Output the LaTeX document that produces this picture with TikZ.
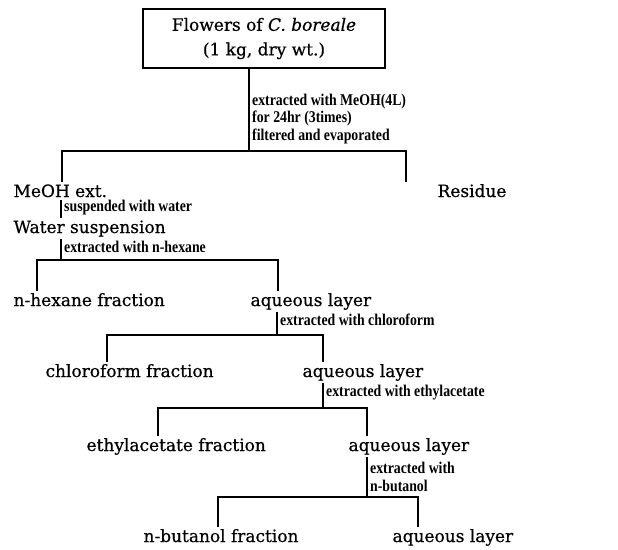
\documentclass[tikz,border=0pt]{standalone}
\usepackage{fontspec}
\usepackage{tikz}
\usetikzlibrary{positioning}
\newfontfamily\fracfont[FakeBold=0.6]{DejaVu Serif}
\newfontfamily\notefont[FakeStretch=0.84]{Liberation Serif}
\newcommand{\stepnote}[3]{%
  \node[note,#3] (#1) {#2};}

\begin{document}
\begin{tikzpicture}[x=0.03cm, y=-0.03cm,
    frac/.style={anchor=base west, inner sep=2pt,
      font=\fracfont\fontsize{14.5}{21}\selectfont},
    note/.style={anchor=west, inner sep=0pt, align=left,
      font=\notefont\bfseries\fontsize{14}{15}\selectfont},
    link/.style={line width=1.5pt}]
  \useasboundingbox (0,0) rectangle (618,549);
  % starting material
  \node[frac, anchor=center, draw, line width=1.5pt, minimum width=7.26cm,
        minimum height=1.77cm, align=center] (flowers) at (264,38.5)
        {Flowers of \textit{C. boreale}\\(1 kg, dry wt.)};
  % fractions
  \node[frac] (meoh) at (11,197) {MeOH ext.};
  \node[frac] (residue) at (435,197) {Residue};
  \node[frac] (water) at (11,233) {Water suspension};
  \node[frac] (hexane) at (11,306) {n-hexane fraction};
  \node[frac] (aq1) at (248,306) {aqueous layer};
  \node[frac] (chloro) at (43,377) {chloroform fraction};
  \node[frac] (aq2) at (300,377) {aqueous layer};
  \node[frac] (ethyl) at (84,451) {ethylacetate fraction};
  \node[frac] (aq3) at (346,451) {aqueous layer};
  \node[frac] (butanol) at (141,542) {n-butanol fraction};
  \node[frac] (aq4) at (390,542) {aqueous layer};
  % branch points
  \coordinate (s1) at (249,151);
  \coordinate (s1l) at (62,151);
  \coordinate (s1r) at (406,151);
  \coordinate (s2) at (61,260);
  \coordinate (s2l) at (37,260);
  \coordinate (s2r) at (278,260);
  \coordinate (s3) at (277,335);
  \coordinate (s3l) at (107,335);
  \coordinate (s3r) at (323,335);
  \coordinate (s4) at (323,408);
  \coordinate (s4l) at (158,408);
  \coordinate (s4r) at (367,408);
  \coordinate (s5) at (367,497);
  \coordinate (s5l) at (218,497);
  \coordinate (s5r) at (418,497);
  % connectors
  \draw[link] (flowers.south -| s1) -- (s1);
  \draw[link] (s1l |- meoh.north) -- (s1l) -- (s1r) -- (s1r |- residue.north);
  \draw[link] (meoh.south -| s2) -- (water.north -| s2);
  \draw[link] (water.south -| s2) -- (s2);
  \draw[link] (s2l |- hexane.north) -- (s2l) -- (s2r) -- (s2r |- aq1.north);
  \draw[link] (aq1.south -| s3) -- (s3);
  \draw[link] (s3l |- chloro.north) -- (s3l) -- (s3r) -- (s3r |- aq2.north);
  \draw[link] (aq2.south -| s4) -- (s4);
  \draw[link] (s4l |- ethyl.north) -- (s4l) -- (s4r) -- (s4r |- aq3.north);
  \draw[link] (aq3.south -| s5) -- (s5);
  \draw[link] (s5l |- butanol.north) -- (s5l) -- (s5r) -- (s5r |- aq4.north);
  % conditions
  \stepnote{n1}{extracted with MeOH(4L)\\for 24hr (3times)\\filtered and evaporated}{at={(252,119)}}
  \stepnote{n2}{suspended with water}{at={(64,208)}}
  \stepnote{n3}{extracted with n-hexane}{at={(64,247)}}
  \stepnote{n4}{extracted with chloroform}{at={(280,320)}}
  \stepnote{n5}{extracted with ethylacetate}{at={(326,393)}}
  \stepnote{n6}{extracted with\\n-butanol}{at={(370,477)}}
\end{tikzpicture}
\end{document}
